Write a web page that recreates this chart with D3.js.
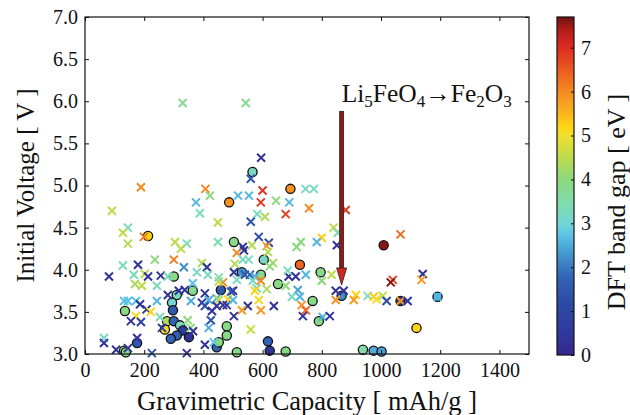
<!DOCTYPE html>
<html lang="en">
<head>
<meta charset="utf-8">
<title>voltage vs capacity</title>
<script src="https://cdn.jsdelivr.net/npm/d3@7"></script>
<style>
  body { margin: 0; background: #fff; }
  text { font-family: "Liberation Serif", "DejaVu Serif", serif; fill: #111; }
</style>
</head>
<body>
<script>
// [capacity mAh/g, voltage V, band gap eV]
var crosses = [
  [330,5.98,3.8],[543,5.98,3.8],[595,5.33,0.3],[560,5.08,1.5],[189,4.98,6.0],
  [407,4.96,6.0],[422,4.88,4.0],[375,4.80,2.6],[517,4.88,2.6],[554,4.88,2.6],
  [600,4.94,6.9],[594,4.80,6.9],[645,4.82,4.0],[690,4.80,2.6],[745,4.96,3.2],
  [773,4.96,3.2],[757,4.73,6.0],[91,4.70,4.5],[388,4.67,3.3],[449,4.56,4.5],
  [145,4.50,3.3],[128,4.44,4.5],[199,4.39,6.1],[145,4.31,4.4],[304,4.33,4.5],
  [344,4.31,3.3],[324,4.25,4.5],[449,4.33,3.4],[678,4.66,6.8],[582,4.66,3.2],
  [608,4.63,4.4],[560,4.57,1.4],[881,4.71,6.8],[840,4.50,4.5],[854,4.44,3.4],
  [533,4.27,0.3],[564,4.29,4.4],[587,4.39,1.2],[621,4.32,1.3],[614,4.28,5.8],
  [729,4.33,4.0],[715,4.27,4.0],[800,4.38,5.2],[783,4.33,2.6],[851,4.29,0.2],
  [1066,4.42,6.3],[300,4.12,6.1],[236,4.12,4.0],[128,4.05,3.3],[179,4.06,0.3],
  [395,4.08,4.4],[334,4.03,2.2],[412,4.03,0.4],[378,3.97,3.2],[415,3.94,3.3],
  [81,3.92,0.3],[165,3.94,3.3],[202,3.95,4.5],[213,3.92,0.3],[256,3.93,0.3],
  [280,3.92,3.3],[169,3.83,4.3],[192,3.81,4.5],[243,3.81,3.3],[364,3.84,2.7],
  [466,3.85,6.0],[452,3.86,4.5],[337,3.76,0.3],[317,3.75,0.3],[280,3.70,0.3],
  [405,3.72,0.3],[358,3.63,2.5],[132,3.63,2.7],[145,3.63,2.7],[172,3.63,2.7],
  [243,3.63,2.6],[186,3.59,0.3],[395,3.61,0.3],[418,3.64,2.5],[405,3.57,1.3],
  [429,3.51,0.3],[483,3.65,5.2],[479,3.58,0.3],[445,3.66,2.5],[208,3.53,0.3],
  [222,3.50,5.2],[172,3.45,5.2],[155,3.39,0.3],[189,3.38,1.0],[253,3.44,3.3],
  [260,3.31,0.4],[347,3.40,4.0],[357,3.31,4.0],[365,3.27,0.3],[425,3.40,1.4],
  [418,3.31,2.5],[64,3.19,3.2],[64,3.13,0.3],[176,3.19,0.3],[105,3.05,0.3],
  [145,3.07,0.3],[226,3.01,1.4],[435,3.14,2.8],[405,3.11,0.3],[344,3.01,0.3],
  [513,4.20,6.0],[537,4.23,0.3],[618,4.21,4.4],[533,4.12,3.2],[553,4.12,3.3],
  [506,4.07,4.4],[635,4.08,4.3],[624,4.04,4.0],[503,3.97,0.3],[540,3.94,1.5],
  [557,3.94,1.6],[574,3.92,2.5],[513,3.88,3.2],[567,3.87,3.3],[594,3.87,6.0],
  [688,3.92,0.3],[712,3.92,0.3],[685,3.99,3.2],[746,3.94,2.6],[800,3.87,4.0],
  [833,3.94,4.5],[678,3.81,4.0],[614,3.77,4.3],[580,3.78,3.2],[500,3.75,0.3],
  [574,3.75,5.2],[719,3.76,2.4],[699,3.68,3.2],[726,3.68,2.6],[847,3.75,0.3],
  [874,3.75,0.4],[847,3.64,5.9],[915,3.70,5.2],[908,3.64,5.8],[955,3.69,3.3],
  [975,3.68,5.3],[587,3.64,5.1],[550,3.57,0.3],[530,3.52,5.8],[594,3.52,5.8],
  [638,3.57,0.3],[732,3.58,5.9],[746,3.52,6.4],[736,3.45,0.3],[803,3.44,2.6],
  [827,3.45,0.4],[503,3.45,0.3],[560,3.29,4.6],[1040,3.88,6.7],[1033,3.85,7.6],
  [1141,3.95,0.3],[1137,3.88,5.8],[985,3.65,5.1],[1006,3.69,4.5],[1019,3.63,1.2],
  [1066,3.63,5.8],[1090,3.63,0.4],[1191,3.68,2.6],[452,3.91,3.3],[452,3.64,4.5],
  [493,3.74,1.4],[500,3.64,2.6],[466,3.58,0.3],[445,3.57,0.3]
];

var circles = [
  [566,5.16,3.2],[487,4.80,5.9],[694,4.96,5.9],[213,4.40,5.2],[503,4.33,3.9],
  [1009,4.29,7.6],[300,3.92,3.9],[459,3.76,1.5],[364,3.75,3.8],[310,3.70,3.3],
  [294,3.61,3.1],[297,3.52,1.5],[135,3.51,3.9],[277,3.39,4.4],[270,3.29,5.1],
  [300,3.39,1.7],[321,3.34,3.3],[331,3.28,0.6],[310,3.22,1.6],[290,3.18,1.8],
  [351,3.20,0.3],[479,3.33,3.9],[479,3.22,3.9],[176,3.13,1.5],[132,3.04,4.0],
  [138,3.02,3.9],[445,3.08,1.7],[452,3.14,4.0],[604,4.12,3.2],[726,4.06,6.4],
  [530,3.97,2.3],[594,3.94,3.8],[796,3.97,3.8],[652,3.83,3.9],[769,3.63,3.9],
  [867,3.69,2.2],[790,3.39,4.0],[618,3.15,1.7],[624,3.04,0.4],[678,3.03,3.9],
  [513,3.02,3.9],[939,3.05,3.5],[975,3.04,2.5],[1002,3.03,2.4],[1066,3.63,0.3],
  [1191,3.68,2.6],[1120,3.31,5.2]
];

var xTicks = [0,200,400,600,800,1000,1200,1400];
var yTicks = [3.0,3.5,4.0,4.5,5.0,5.5,6.0,6.5,7.0];
var cTicks = [0,1,2,3,4,5,6,7];

// colormap stops
var cmapStops  = [0, 0.6, 1.2, 1.8, 2.3, 2.7, 3.0, 3.5, 4.0, 4.5, 5.0, 5.2, 5.6, 6.0, 6.5, 7.0, 7.4, 7.7];
var cmapColors = ["#35288f","#2e3c9e","#2c4aa6","#3466b6","#4496cf","#5ac0e4","#74d6d6","#80dcaa",
                  "#8cd87e","#bcdc4c","#f0e030","#ffd412","#f8ac22","#f48a20","#ec5a22","#dc2c22","#b41c1a","#701410"];

// annotation
var arrowCap = 867, arrowFrom = 5.88, arrowTo = 3.82, labelVolt = 5.99;

var w = 630, h = 415;
var mLeft = 85, mRight = 529, mTop = 17, mBottom = 354;

var svg = d3.select("body").append("svg").attr("width", w).attr("height", h);

var xScale = d3.scaleLinear().domain([0, 1500]).range([mLeft, mRight]);
var yScale = d3.scaleLinear().domain([3, 7]).range([mBottom, mTop]);
var cScale = d3.scaleLinear().domain(cmapStops).range(cmapColors).clamp(true);

var plot = svg.append("g");

// circles first, crosses on top
plot.selectAll("circle.pt")
  .data(circles)
  .enter()
  .append("circle")
  .attr("class", "pt")
  .attr("cx", function(d) { return xScale(d[0]); })
  .attr("cy", function(d) { return yScale(d[1]); })
  .attr("r", 4.6)
  .attr("fill", function(d) { return cScale(d[2]); })
  .attr("stroke", "#111")
  .attr("stroke-width", 1.3);

var s = 4;
plot.selectAll("path.cross")
  .data(crosses)
  .enter()
  .append("path")
  .attr("class", "cross")
  .attr("d", function(d) {
    var x = xScale(d[0]), y = yScale(d[1]);
    return "M" + (x - s) + "," + (y - s) + "L" + (x + s) + "," + (y + s) +
           "M" + (x - s) + "," + (y + s) + "L" + (x + s) + "," + (y - s);
  })
  .attr("stroke", function(d) { return cScale(d[2]); })
  .attr("stroke-width", 2)
  .attr("fill", "none");

// axes, ticks pointing inward
var xAxis = d3.axisBottom(xScale).tickValues(xTicks).tickFormat(d3.format("d"))
  .tickSizeInner(-4).tickSizeOuter(0).tickPadding(9);
var yAxis = d3.axisLeft(yScale).tickValues(yTicks).tickFormat(d3.format(".1f"))
  .tickSizeInner(-4).tickSizeOuter(0).tickPadding(7);

var gx = svg.append("g").attr("transform", "translate(0," + mBottom + ")").call(xAxis);
var gy = svg.append("g").attr("transform", "translate(" + mLeft + ",0)").call(yAxis);
svg.append("g").attr("transform", "translate(0," + mTop + ")")
  .call(d3.axisTop(xScale).tickValues(xTicks).tickSizeInner(-4).tickSizeOuter(0).tickFormat(""));
svg.append("g").attr("transform", "translate(" + mRight + ",0)")
  .call(d3.axisRight(yScale).tickValues(yTicks).tickSizeInner(-4).tickSizeOuter(0).tickFormat(""));

svg.selectAll(".domain").remove();
svg.selectAll(".tick line").attr("stroke", "#111").attr("stroke-width", 1);
gx.selectAll("text").style("font-size", "20px").style("font-family", "Liberation Serif").attr("fill", "#111");
gy.selectAll("text").style("font-size", "20px").style("font-family", "Liberation Serif").attr("fill", "#111");

svg.append("rect")
  .attr("x", mLeft).attr("y", mTop)
  .attr("width", mRight - mLeft).attr("height", mBottom - mTop)
  .attr("fill", "none").attr("stroke", "#111").attr("stroke-width", 1.2);

// axis titles
svg.append("text")
  .attr("x", (mLeft + mRight) / 2).attr("y", 410)
  .attr("text-anchor", "middle")
  .style("font-size", "26.5px")
  .text("Gravimetric Capacity [ mAh/g ]");

svg.append("text")
  .attr("transform", "translate(34," + ((mTop + mBottom) / 2) + ") rotate(-90)")
  .attr("text-anchor", "middle")
  .style("font-size", "25px")
  .text("Initial Voltage [ V ]");

// arrow annotation
var ax = xScale(arrowCap), ay0 = yScale(arrowFrom), ay1 = yScale(arrowTo);
svg.append("rect")
  .attr("x", ax - 2).attr("y", ay0)
  .attr("width", 4).attr("height", ay1 - ay0 - 16)
  .attr("fill", "#8e1a18").attr("stroke", "#222").attr("stroke-width", 0.8);
svg.append("path")
  .attr("d", "M" + (ax - 5) + "," + (ay1 - 17) + "L" + (ax + 5) + "," + (ay1 - 17) + "L" + ax + "," + ay1 + "Z")
  .attr("fill", "#d0281e").attr("stroke", "#222").attr("stroke-width", 0.8);

var lab = svg.append("text")
  .attr("x", ax).attr("y", yScale(labelVolt))
  .style("font-size", "25.5px");
lab.append("tspan").text("Li");
lab.append("tspan").attr("dy", 5).style("font-size", "17px").text("5");
lab.append("tspan").attr("dy", -5).text("FeO");
lab.append("tspan").attr("dy", 5).style("font-size", "17px").text("4");
lab.append("tspan").attr("dy", -5).text("\u2192Fe");
lab.append("tspan").attr("dy", 5).style("font-size", "17px").text("2");
lab.append("tspan").attr("dy", -5).text("O");
lab.append("tspan").attr("dy", 5).style("font-size", "17px").text("3");

// colour bar
var cbX = 557, cbW = 17;
var cbScale = d3.scaleLinear().domain([0, 7.7]).range([355, 17]);
var grad = svg.append("defs").append("linearGradient")
  .attr("id", "cbar").attr("x1", 0).attr("y1", 1).attr("x2", 0).attr("y2", 0);
grad.selectAll("stop")
  .data(cmapStops)
  .enter()
  .append("stop")
  .attr("offset", function(d) { return d / 7.7; })
  .attr("stop-color", function(d, i) { return cmapColors[i]; });

svg.append("rect")
  .attr("x", cbX).attr("y", cbScale(7.7))
  .attr("width", cbW).attr("height", cbScale(0) - cbScale(7.7))
  .attr("fill", "url(#cbar)").attr("stroke", "#111").attr("stroke-width", 1.2);

var gc = svg.append("g").attr("transform", "translate(" + (cbX + cbW) + ",0)")
  .call(d3.axisRight(cbScale).tickValues(cTicks).tickSizeInner(-3).tickSizeOuter(0).tickPadding(7));
gc.select(".domain").remove();
gc.selectAll(".tick line").attr("stroke", "#111");
gc.selectAll("text").style("font-size", "20px").style("font-family", "Liberation Serif").attr("fill", "#111");

svg.append("text")
  .attr("transform", "translate(625,202) rotate(-90)")
  .attr("text-anchor", "middle")
  .style("font-size", "26px")
  .text("DFT band gap [ eV ]");
</script>
</body>
</html>
